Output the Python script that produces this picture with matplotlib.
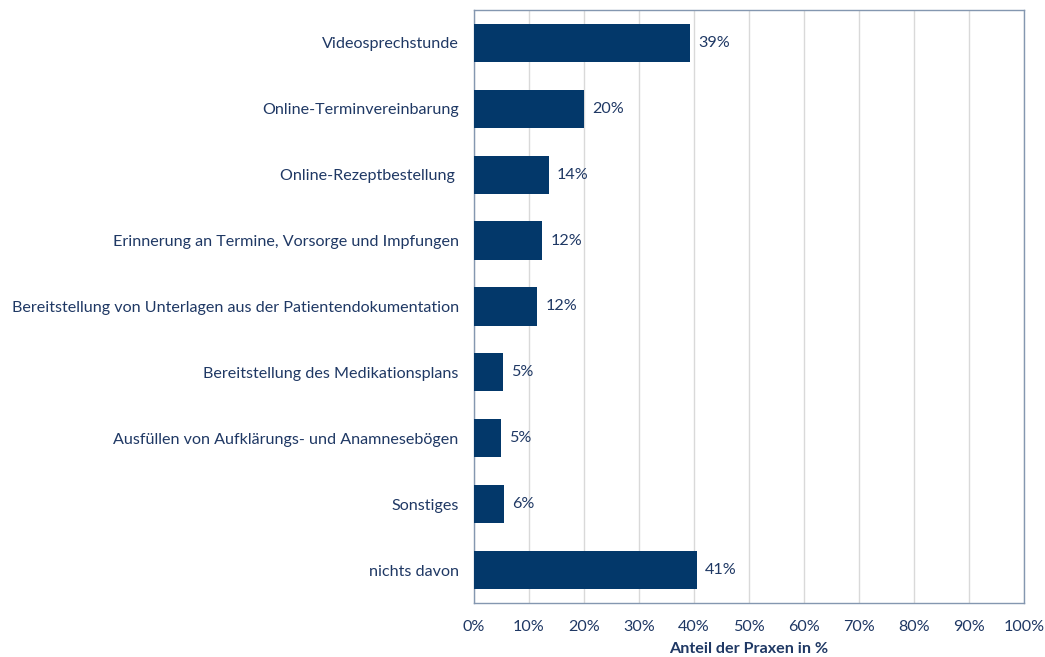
import matplotlib.pyplot as plt

categories = ['Videosprechstunde', 'Online-Terminvereinbarung', 'Online-Rezeptbestellung ',
              'Erinnerung an Termine, Vorsorge und Impfungen',
              'Bereitstellung von Unterlagen aus der Patientendokumentation',
              'Bereitstellung des Medikationsplans',
              'Ausfüllen von Aufklärungs- und Anamnesebögen',
              'Sonstiges', 'nichts davon']
values = [39.3, 20.0, 13.6, 12.4, 11.5, 5.3, 4.9, 5.5, 40.5]
labels = ['39%', '20%', '14%', '12%', '12%', '5%', '5%', '6%', '41%']
ticks = list(range(0, 101, 10))

plt.rcParams['font.family'] = ['Lato', 'DejaVu Sans']
navy = '#03386a'
txt = '#1f3864'
fs = 11.6

fig = plt.figure(figsize=(10.45, 6.57), dpi=100)
ax = fig.add_axes([0.4536, 0.0822, 0.5263, 0.9026])

y = range(len(categories))
ax.barh(y, values, height=0.58, color=navy, zorder=3)
for i, (v, l) in enumerate(zip(values, labels)):
    ax.text(v + 1.5, i, l, va='center', ha='left', color=txt, fontsize=fs)

ax.set_xlim(0, 100)
ax.set_ylim(8.5, -0.5)
ax.set_xticks(ticks)
ax.set_xticklabels([f'{t}%' for t in ticks], color=txt, fontsize=fs)
ax.set_yticks(list(y))
ax.set_yticklabels(categories, color=txt, fontsize=fs)
ax.tick_params(axis='x', length=0, pad=12)
ax.tick_params(axis='y', length=0, pad=11)
ax.grid(axis='x', color='#d9d9d9', linewidth=1, zorder=0)
for s in ax.spines.values():
    s.set_color('#8497b0')
    s.set_linewidth(1)
ax.set_xlabel('Anteil der Praxen in %', color=txt, fontsize=fs, fontweight='bold', labelpad=6)

fig.savefig('out.png', dpi=100)
